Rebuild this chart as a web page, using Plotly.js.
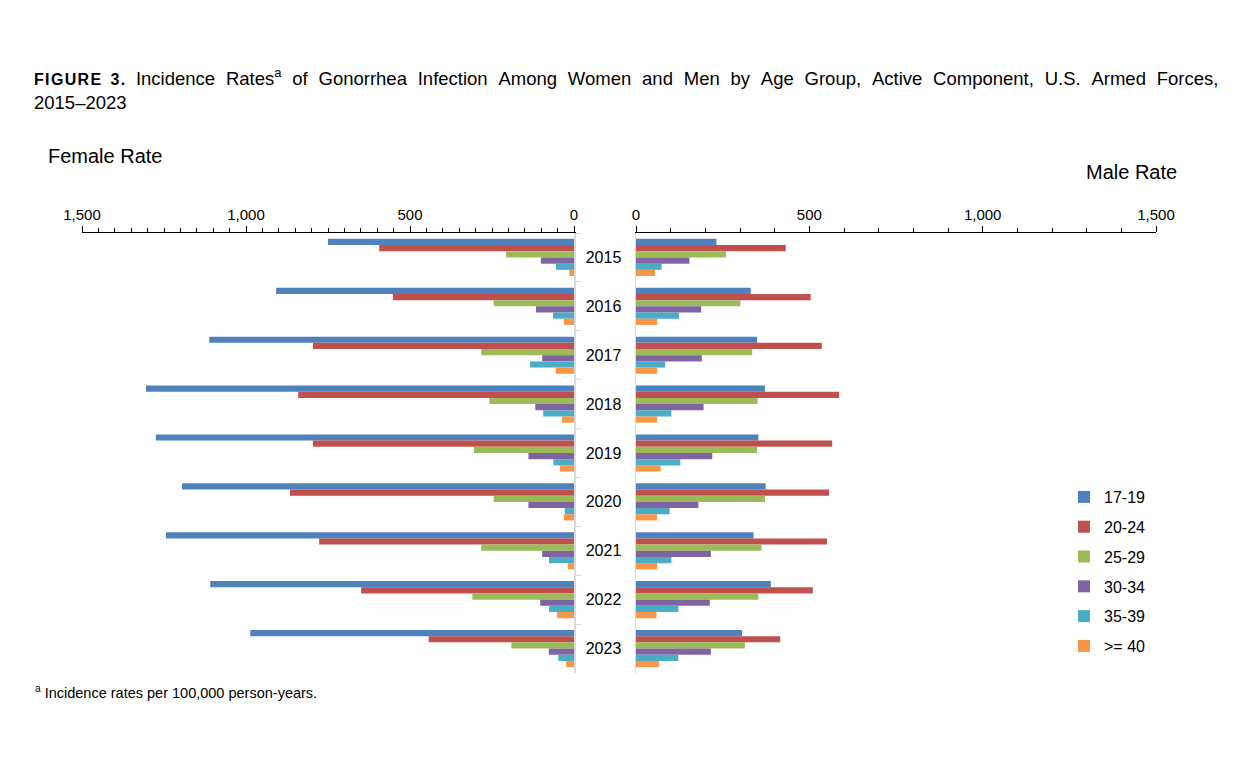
<!DOCTYPE html>
<html>
<head>
<meta charset="utf-8">
<script src="https://cdn.plot.ly/plotly-3.0.1.min.js"></script>
<style>html,body{margin:0;padding:0;background:#fff;}#chart{width:1250px;height:776px;}</style>
</head>
<body>
<div id="chart"></div>
<script>
const years = ['2015','2016','2017','2018','2019','2020','2021','2022','2023'];
const ageGroups = ['17-19','20-24','25-29','30-34','35-39','>= 40'];
const colors = ['#4F81BD','#C0504D','#9BBB59','#8064A2','#4BACC6','#F79646'];

// Female rates per 100,000 person-years (by age group, 2015..2023)
const female_17_19 = [750, 908, 1112, 1305, 1275, 1195, 1244, 1109, 987];
const female_20_24 = [594, 552, 796, 841, 796, 866, 777, 649, 443];
const female_25_29 = [207, 245, 283, 258, 305, 245, 283, 310, 191];
const female_30_34 = [101, 116, 97, 118, 139, 139, 97, 103, 77];
const female_35_39 = [55, 64, 134, 94, 63, 28, 76, 76, 48];
const female_40plus = [14, 31, 56, 37, 43, 31, 19, 52, 24];

// Male rates per 100,000 person-years
const male_17_19 = [232, 331, 349, 372, 353, 374, 339, 389, 306];
const male_20_24 = [432, 504, 536, 586, 566, 557, 551, 510, 416];
const male_25_29 = [260, 301, 335, 351, 349, 372, 362, 353, 314];
const male_30_34 = [154, 188, 190, 195, 220, 180, 216, 213, 216];
const male_35_39 = [74, 124, 84, 102, 128, 97, 102, 122, 122];
const male_40plus = [55, 61, 61, 61, 71, 61, 61, 59, 66];

const femaleSeries = [female_17_19, female_20_24, female_25_29, female_30_34, female_35_39, female_40plus];
const maleSeries = [male_17_19, male_20_24, male_25_29, male_30_34, male_35_39, male_40plus];

const W = 1250, H = 776;
const px = v => v / W;
const py = v => 1 - v / H;

const traces = [];
femaleSeries.forEach((vals, i) => {
  traces.push({
    type: 'bar', orientation: 'h', x: vals, y: years,
    xaxis: 'x', yaxis: 'y', name: ageGroups[i],
    marker: {color: colors[i]}, showlegend: false, legendgroup: 'g' + i,
    hoverinfo: 'x+y+name'
  });
});
maleSeries.forEach((vals, i) => {
  traces.push({
    type: 'bar', orientation: 'h', x: vals, y: years,
    xaxis: 'x2', yaxis: 'y2', name: ageGroups[i],
    marker: {color: colors[i]}, showlegend: true, legendgroup: 'g' + i,
    hoverinfo: 'x+y+name'
  });
});

const font = 'Liberation Sans, Arial, sans-serif';
const yDomain = [1 - 673 / H, 1 - 233 / H];

const sp = '\u2002\u200a';
const titleLine1 = ['Incidence', 'Rates<sup>a</sup>', 'of', 'Gonorrhea', 'Infection', 'Among', 'Women', 'and', 'Men', 'by', 'Age', 'Group,', 'Active', 'Component,', 'U.S.', 'Armed', 'Forces,'].join(sp);
const figLabel = `<span style="font-size:16px;font-weight:bold">F\u200aI\u200aG\u200aU\u200aR\u200aE\u2002\u200a3\u200a.</span>`;

const layout = {
  width: W, height: H,
  margin: {l: 0, r: 0, t: 0, b: 0},
  paper_bgcolor: '#fff', plot_bgcolor: '#fff',
  font: {family: font, size: 15, color: '#000'},
  barmode: 'group', bargap: 0.24, bargroupgap: 0,
  showlegend: true,
  legend: {
    x: px(1064), y: py(480), xanchor: 'left', yanchor: 'top',
    font: {family: font, size: 16, color: '#000'},
    tracegroupgap: 6, itemwidth: 30, traceorder: 'grouped'
  },
  xaxis: {
    domain: [px(82), px(574)], anchor: 'y', side: 'top',
    range: [1500, 0], autorange: false,
    tickvals: [0, 500, 1000, 1500], tickformat: ',',
    ticks: 'outside', ticklen: 6, tickcolor: '#000', tickwidth: 1,
    minor: {dtick: 50, tick0: 0, ticks: 'outside', ticklen: 4, tickcolor: '#000'},
    showline: true, linecolor: '#000', linewidth: 1.5,
    showgrid: false, zeroline: false,
    tickfont: {family: font, size: 15, color: '#000'}
  },
  yaxis: {
    domain: yDomain, anchor: 'x', side: 'right',
    type: 'category', autorange: 'reversed',
    showline: true, linecolor: '#D9D9D9', linewidth: 1.5,
    ticks: 'outside', tickson: 'boundaries', ticklen: 5, tickcolor: '#D9D9D9',
    showgrid: false, zeroline: false,
    tickfont: {family: font, size: 16, color: '#000'},
    ticklabelstandoff: 7
  },
  xaxis2: {
    domain: [px(636), px(1156)], anchor: 'y2', side: 'top',
    range: [0, 1500], autorange: false,
    tickvals: [0, 500, 1000, 1500], tickformat: ',',
    ticks: 'outside', ticklen: 6, tickcolor: '#000', tickwidth: 1,
    minor: {dtick: 100, tick0: 0, ticks: 'outside', ticklen: 4, tickcolor: '#000'},
    showline: true, linecolor: '#000', linewidth: 1.5,
    showgrid: false, zeroline: false,
    tickfont: {family: font, size: 15, color: '#000'}
  },
  yaxis2: {
    domain: yDomain, anchor: 'x2', side: 'left',
    type: 'category', autorange: 'reversed',
    showline: true, linecolor: '#D9D9D9', linewidth: 1.5,
    ticks: '', showticklabels: false,
    showgrid: false, zeroline: false
  },
  annotations: [
    {
      xref: 'paper', yref: 'paper', x: px(32), y: py(63), xanchor: 'left', yanchor: 'top',
      align: 'left', showarrow: false,
      font: {family: font, size: 18.5, color: '#000'},
      text: figLabel + sp + titleLine1 + '<br>2015–2023'
    },
    {
      xref: 'paper', yref: 'paper', x: px(46), y: py(156), xanchor: 'left', yanchor: 'middle',
      showarrow: false, font: {family: font, size: 20, color: '#000'}, text: 'Female Rate'
    },
    {
      xref: 'paper', yref: 'paper', x: px(1179), y: py(172), xanchor: 'right', yanchor: 'middle',
      showarrow: false, font: {family: font, size: 20, color: '#000'}, text: 'Male Rate'
    },
    {
      xref: 'paper', yref: 'paper', x: px(33), y: py(692), xanchor: 'left', yanchor: 'middle',
      showarrow: false, font: {family: font, size: 14.5, color: '#000'},
      text: '<sup>a</sup> Incidence rates per 100,000 person-years.'
    }
  ]
};

Plotly.newPlot('chart', traces, layout, {displayModeBar: false, staticPlot: true});
</script>
</body>
</html>
